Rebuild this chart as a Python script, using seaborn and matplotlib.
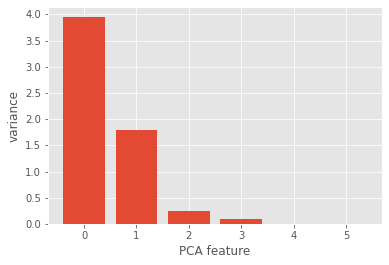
import matplotlib
matplotlib.use("Agg")
import matplotlib.pyplot as plt
import seaborn as sns
import pandas as pd

features = [0, 1, 2, 3, 4, 5]
variances = [3.95, 1.79, 0.25, 0.10, 0.004, 0.002]

plt.style.use("ggplot")
fig = plt.figure(figsize=(389 / 72, 265 / 72), dpi=72)
ax = fig.add_axes([48 / 389, 1 - 224 / 265, (382 - 48) / 389, (224 - 7) / 265])
df = pd.DataFrame({"feature": features, "variance": variances})
sns.barplot(data=df, x="feature", y="variance", color="#E24A33", saturation=1,
            width=0.8, ax=ax, native_scale=True)
ax.set_xticks(features)
ax.set_xlim(-0.69, 5.69)
ax.set_ylim(0, 4.14)
ax.set_yticks([0.0, 0.5, 1.0, 1.5, 2.0, 2.5, 3.0, 3.5, 4.0])
ax.set_xlabel("PCA feature")
ax.set_ylabel("variance")
fig.savefig("out.png", dpi=72)
